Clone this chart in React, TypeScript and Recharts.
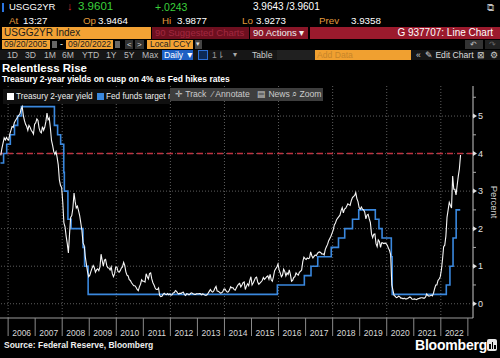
import React from 'react';
import { LineChart, Line, XAxis, YAxis, ReferenceLine } from 'recharts';

// Treasury 2-year yield, one value per half month, from the second half of Sep 2005
const y2005 = [3.95, 4.14, 4.28, 4.42, 4.36, 4.43, 4.38];
const y2006 = [4.36, 4.52, 4.62, 4.72, 4.70, 4.82, 4.88, 4.93, 4.98, 5.02, 5.06, 5.18, 5.25, 5.02, 4.88, 4.78, 4.72, 4.62, 4.75, 4.70, 4.62, 4.58, 4.52, 4.78];
const y2007 = [4.82, 4.92, 4.88, 4.68, 4.58, 4.55, 4.72, 4.62, 4.70, 4.85, 5.08, 4.90, 4.95, 4.68, 4.35, 4.22, 4.05, 3.98, 4.05, 3.90, 3.70, 3.30, 3.15, 3.10];
const y2008 = [2.70, 2.15, 2.05, 1.80, 1.60, 1.35, 1.85, 2.30, 2.35, 2.55, 2.95, 2.72, 2.55, 2.60, 2.48, 2.35, 2.15, 1.95, 1.62, 1.55, 1.25, 1.05, 0.85, 0.72];
const y2009 = [0.76, 0.86, 0.95, 1.02, 0.96, 0.84, 0.90, 0.93, 0.88, 0.98, 1.32, 1.15, 1.00, 1.16, 1.18, 1.02, 0.96, 0.95, 0.90, 0.98, 0.80, 0.72, 0.80, 0.98];
const y2010 = [0.98, 0.86, 0.84, 0.88, 0.95, 0.98, 1.10, 1.02, 0.85, 0.76, 0.74, 0.64, 0.62, 0.56, 0.52, 0.48, 0.48, 0.44, 0.38, 0.35, 0.45, 0.52, 0.64, 0.60];
const y2011 = [0.60, 0.58, 0.80, 0.72, 0.66, 0.80, 0.82, 0.66, 0.56, 0.50, 0.42, 0.38, 0.38, 0.42, 0.22, 0.19, 0.20, 0.25, 0.28, 0.25, 0.24, 0.27, 0.24, 0.26];
const y2012 = [0.23, 0.24, 0.29, 0.30, 0.35, 0.33, 0.28, 0.26, 0.28, 0.27, 0.30, 0.31, 0.24, 0.22, 0.27, 0.26, 0.24, 0.26, 0.29, 0.28, 0.26, 0.25, 0.25, 0.27];
const y2013 = [0.26, 0.27, 0.27, 0.24, 0.26, 0.25, 0.23, 0.22, 0.24, 0.28, 0.33, 0.38, 0.33, 0.31, 0.34, 0.41, 0.46, 0.34, 0.33, 0.31, 0.28, 0.29, 0.32, 0.39];
const y2014 = [0.39, 0.34, 0.31, 0.32, 0.37, 0.45, 0.42, 0.43, 0.38, 0.36, 0.42, 0.48, 0.52, 0.54, 0.45, 0.50, 0.56, 0.58, 0.38, 0.47, 0.53, 0.48, 0.62, 0.72];
const y2015 = [0.50, 0.55, 0.62, 0.69, 0.71, 0.58, 0.52, 0.55, 0.58, 0.62, 0.70, 0.65, 0.68, 0.72, 0.74, 0.65, 0.78, 0.64, 0.60, 0.72, 0.88, 0.93, 0.98, 1.06];
const y2016 = [0.90, 0.82, 0.72, 0.76, 0.92, 0.86, 0.74, 0.82, 0.78, 0.90, 0.78, 0.60, 0.62, 0.70, 0.72, 0.82, 0.78, 0.76, 0.84, 0.86, 0.90, 1.12, 1.24, 1.20];
const y2017 = [1.18, 1.22, 1.20, 1.22, 1.38, 1.28, 1.22, 1.26, 1.30, 1.28, 1.34, 1.37, 1.38, 1.36, 1.32, 1.33, 1.30, 1.45, 1.52, 1.58, 1.68, 1.74, 1.80, 1.88];
const y2018 = [1.96, 2.10, 2.15, 2.24, 2.28, 2.32, 2.36, 2.48, 2.56, 2.42, 2.52, 2.54, 2.60, 2.66, 2.64, 2.62, 2.74, 2.82, 2.86, 2.88, 2.96, 2.80, 2.72, 2.56];
const y2019 = [2.52, 2.58, 2.52, 2.50, 2.44, 2.26, 2.36, 2.38, 2.26, 2.16, 1.86, 1.76, 1.85, 1.86, 1.60, 1.52, 1.70, 1.66, 1.50, 1.62, 1.62, 1.60, 1.62, 1.60];
const y2020 = [1.56, 1.48, 1.42, 1.30, 0.50, 0.36, 0.22, 0.20, 0.16, 0.17, 0.20, 0.19, 0.15, 0.15, 0.13, 0.15, 0.13, 0.13, 0.14, 0.16, 0.18, 0.16, 0.12, 0.12];
const y2021 = [0.13, 0.12, 0.11, 0.13, 0.14, 0.15, 0.16, 0.16, 0.15, 0.15, 0.18, 0.26, 0.22, 0.20, 0.21, 0.23, 0.21, 0.28, 0.40, 0.50, 0.50, 0.62, 0.66, 0.72];
const y2022 = [0.90, 1.18, 1.52, 1.56, 1.80, 2.30, 2.50, 2.70, 2.62, 2.55, 3.40, 3.05, 3.05, 2.90, 3.15, 3.40, 3.60, 3.96];

const treasury2y = [
  ...y2005, ...y2006, ...y2007, ...y2008, ...y2009, ...y2010, ...y2011, ...y2012, ...y2013,
  ...y2014, ...y2015, ...y2016, ...y2017, ...y2018, ...y2019, ...y2020, ...y2021, ...y2022,
];

// Fed funds target rate, upper bound (date it took effect)
const fedDates = [
  '2005-09-20', '2005-11-01', '2005-12-13', '2006-01-31', '2006-03-28', '2006-05-10', '2006-06-29',
  '2007-09-18', '2007-10-31', '2007-12-11', '2008-01-22', '2008-01-30', '2008-03-18', '2008-04-30',
  '2008-10-08', '2008-10-29', '2008-12-16', '2015-12-16', '2016-12-14', '2017-03-15', '2017-06-14',
  '2017-12-13', '2018-03-21', '2018-06-13', '2018-09-26', '2018-12-19', '2019-07-31', '2019-09-18',
  '2019-10-30', '2020-03-03', '2020-03-15', '2022-03-16', '2022-05-04', '2022-06-15', '2022-07-27',
  '2022-09-20',
];
const fedUpper = [
  3.75, 4.0, 4.25, 4.5, 4.75, 5.0, 5.25,
  4.75, 4.5, 4.25, 3.5, 3.0, 2.25, 2.0,
  1.5, 1.0, 0.25, 0.5, 0.75, 1.0, 1.25,
  1.5, 1.75, 2.0, 2.25, 2.5, 2.25, 2.0,
  1.75, 1.25, 0.25, 0.5, 1.0, 1.75, 2.5,
  2.5,
];

const yearTicks = [2006, 2007, 2008, 2009, 2010, 2011, 2012, 2013, 2014, 2015, 2016, 2017, 2018, 2019, 2020, 2021, 2022, 2023];
const gridYears = [2006, 2008, 2010, 2012, 2014, 2016, 2018, 2020, 2022];
const pctTicks = [0, 0.5, 1, 1.5, 2, 2.5, 3, 3.5, 4, 4.5, 5, 5.5];
const gridPct = [0, 1, 2, 3, 4, 5];

const X_DOMAIN: [number, number] = [2005.7, 2023.19];
const Y_DOMAIN: [number, number] = [-0.38, 5.8];
const PLOT_W = 473;
const HALF_YEAR_PX = PLOT_W / (X_DOMAIN[1] - X_DOMAIN[0]) / 2;

const toYear = (d: string) => {
  const [y, m, day] = d.split('-').map(Number);
  const t = Date.UTC(y, m - 1, day) - Date.UTC(y, 0, 1);
  return y + t / (365 * 86400000);
};

const START = 2005 + 8.75 / 12;
const yieldData = treasury2y.map((v, i) => ({ t: START + i / 24, v }));
const fedData = fedDates.map((d, i) => ({ t: toYear(d), v: fedUpper[i] }));

const FONT = '"Liberation Sans Narrow", "Liberation Sans", Arial, sans-serif';

const YearTick = (props: any) => {
  const { x, y, payload } = props;
  const year = payload.value;
  return (
    <g>
      <line x1={x} y1={y} x2={x} y2={y + 18} stroke="#8a8a8a" />
      {year < 2023 && (
        <text x={x + HALF_YEAR_PX} y={y + 18} textAnchor="middle" fill="#d8d8d8" fontSize={8.5} fontFamily={FONT}>
          {year}
        </text>
      )}
    </g>
  );
};

const PctTick = (props: any) => {
  const { x, y, payload } = props;
  const v = payload.value;
  if (!Number.isInteger(v)) return <line x1={x} y1={y} x2={x + 3} y2={y} stroke="#aaa" />;
  return (
    <g>
      <path d={`M${x},${y - 2.5}L${x + 4},${y}L${x},${y + 2.5}Z`} fill="#e0e0e0" />
      <text x={x + 5} y={y + 3} fill="#e0e0e0" fontSize={9} fontFamily={FONT}>
        {v}
      </text>
    </g>
  );
};

const PercentLabel = (props: any) => {
  const vb = props.viewBox || { x: 473, y: 6, width: 27, height: 232 };
  const x = vb.x + 18;
  const y = vb.y + vb.height / 2;
  return (
    <text x={x} y={y} transform={`rotate(90, ${x}, ${y})`} textAnchor="middle" fill="#cfcfcf" fontSize={9.5} fontFamily={FONT}>
      Percent
    </text>
  );
};

const T = ({ x, y, c = '#fff', s = 10, w = 400, ls = 0, children }: any) => (
  <span style={{ position: 'absolute', left: x, top: y - s * 0.6, fontSize: s, lineHeight: 1.2, color: c, fontWeight: w, letterSpacing: ls, whiteSpace: 'nowrap' }}>
    {children}
  </span>
);

const Box = ({ x, y, w, h, bg, children, style }: any) => (
  <div style={{ position: 'absolute', left: x, top: y, width: w, height: h, background: bg, overflow: 'hidden', ...style }}>{children}</div>
);

const ORANGE = '#f3a234';
const LABEL = '#e09a3c';

export default function App() {
  return (
    <div style={{ position: 'absolute', left: 0, top: 0, width: 500, height: 358, background: '#000', overflow: 'hidden', fontFamily: FONT }}>
      {/* quote rows */}
      <Box x={2} y={3} w={2} h={9} bg="#2a74e0" />
      <T x={9} y={7} s={9.5}>USGG2YR</T>
      <T x={67} y={7} s={11} c="#d43434">↓</T>
      <T x={78} y={7} s={11.5} c="#3bd13b">3.9601</T>
      <T x={155} y={7} s={10.5} c="#3bd13b">+.0243</T>
      <T x={253} y={7} s={10}>3.9643 /3.9601</T>
      <T x={487} y={8} s={10} c="#bbb">⧉</T>

      <T x={9} y={21} s={9.8} c={LABEL}>At</T>
      <T x={23} y={21} s={9.8}>13:27</T>
      <T x={83} y={21} s={9.8} c={LABEL}>Op</T>
      <T x={98} y={21} s={9.8}>3.9464</T>
      <T x={162} y={21} s={9.8} c={LABEL}>Hi</T>
      <T x={177} y={21} s={9.8}>3.9877</T>
      <T x={242} y={21} s={9.8} c={LABEL}>Lo</T>
      <T x={256} y={21} s={9.8}>3.9273</T>
      <T x={319} y={21} s={9.8} c={LABEL}>Prev</T>
      <T x={351} y={21} s={9.8}>3.9358</T>

      {/* security bar */}
      <Box x={2} y={27} w={149} h={12} bg={ORANGE} />
      <T x={4} y={33} s={10} c="#1a1a1a">USGG2YR Index</T>
      <Box x={152} y={27} w={97} h={12} bg="#6e0f1f" />
      <T x={155} y={33} s={9.5} c="#a3283f">90 Suggested Charts</T>
      <Box x={250} y={27} w={58} h={12} bg="#8a1628" />
      <T x={253} y={33} s={9.5} c="#eee">90 Actions ▾</T>
      <Box x={310} y={27} w={190} h={12} bg="#9b1a2d" />
      <div style={{ position: 'absolute', right: 7, top: 27, fontSize: 10, lineHeight: '12px', color: '#fff' }}>G 937707: Line Chart</div>

      {/* date row */}
      <Box x={2} y={40} w={48} h={9} bg={ORANGE} />
      <T x={4} y={44.5} s={8.6} c="#222">09/20/2005</T>
      <Box x={52} y={41} w={5} h={7} bg="#666" />
      <T x={60} y={44.5} s={9}>-</T>
      <Box x={66} y={40} w={47} h={9} bg={ORANGE} />
      <T x={68} y={44.5} s={8.6} c="#222">09/20/2022</T>
      <Box x={115} y={41} w={5} h={7} bg="#666" />
      <Box x={125} y={40} w={8} h={9} bg="#333" />
      <T x={127} y={44.5} s={8} c="#ddd">{'<'}</T>
      <Box x={135} y={40} w={9} h={9} bg="#333" />
      <T x={137} y={44.5} s={8} c="#ddd">{'>'}</T>
      <Box x={147} y={40} w={46} h={9} bg={ORANGE} />
      <T x={150} y={44.5} s={8.6} c="#222">Local CCY</T>
      <Box x={195} y={40} w={7} h={9} bg="#444" />
      <T x={196} y={44.5} s={7} c="#ddd">▾</T>
      <Box x={465} y={40} w={18} h={9} bg="#333" />
      <T x={470} y={44.5} s={8} c="#bbb">↶</T>
      <Box x={485} y={40} w={15} h={9} bg="#222" />
      <T x={489} y={44.5} s={8} c="#666">↷</T>

      {/* range row */}
      <Box x={0} y={50} w={500} h={10} bg="#161616" />
      {[['1D', 7], ['3D', 25], ['1M', 44], ['6M', 62], ['YTD', 82], ['1Y', 106], ['5Y', 124], ['Max', 142]].map(([t, x]) => (
        <T key={t as string} x={x} y={55} s={8.6} c="#bdbdbd">{t}</T>
      ))}
      <Box x={162} y={50} w={31} h={10} bg="#1e60c4" />
      <T x={164} y={55} s={8.6} c="#fff">Daily ▼</T>
      <Box x={198} y={50} w={10} h={10} bg="#0d2a55" style={{ boxSizing: 'border-box', border: '1px solid #2b6fd6' }} />
      <T x={212} y={55} s={8.6} c="#999">1⇂</T>
      <T x={233} y={55} s={8} c="#aaa">▾</T>
      <T x={252} y={55} s={8.6} c="#ccc">Table</T>
      <Box x={277} y={50} w={38} h={10} bg="#202020" />
      <Box x={315} y={50} w={96} h={10} bg="#f0a030" />
      <T x={317} y={55} s={8.6} c="#c7852a">Add Data</T>
      <T x={416} y={55} s={8.6} c="#ccc">«</T>
      <T x={425} y={55} s={8.6} c="#ddd">✎ Edit Chart</T>
      <T x={477} y={55} s={8.6} c="#ccc">⊠</T>
      <T x={490} y={55} s={8.6} c="#ccc">⚙</T>

      {/* titles */}
      <T x={2} y={69} s={11.5} w={700}>Relentless Rise</T>
      <T x={2} y={79} s={8.5} w={700}>Treasury 2-year yields on cusp on 4% as Fed hikes rates</T>

      <div style={{ position: 'absolute', left: 0, top: 80 }}>
        <LineChart width={500} height={258} margin={{ top: 6, right: 0, bottom: 0, left: 0 }}>
          <XAxis
            dataKey="t"
            type="number"
            domain={X_DOMAIN}
            ticks={yearTicks}
            interval={0}
            allowDataOverflow
            height={20}
            tickSize={0}
            tickMargin={0}
            tickLine={false}
            axisLine={{ stroke: '#9a9a9a' }}
            tick={<YearTick />}
          />
          <YAxis
            orientation="right"
            type="number"
            domain={Y_DOMAIN}
            ticks={pctTicks}
            interval={0}
            allowDataOverflow
            width={27}
            tickSize={0}
            tickMargin={0}
            tickLine={false}
            axisLine={{ stroke: '#c8c8c8' }}
            tick={<PctTick />}
            label={<PercentLabel />}
          />
          {gridPct.map((v) => (
            <ReferenceLine key={'h' + v} y={v} stroke="#5e5e5e" strokeDasharray="1 2" />
          ))}
          {gridYears.map((v) => (
            <ReferenceLine key={'v' + v} x={v} stroke="#5e5e5e" strokeDasharray="1 2" />
          ))}
          <ReferenceLine y={4} stroke="#bf3340" strokeWidth={1.6} strokeDasharray="6 4" />
          <Line data={fedData} dataKey="v" type="stepAfter" stroke="#3a88de" strokeWidth={1.6} dot={false} activeDot={false} isAnimationActive={false} />
          <Line data={yieldData} dataKey="v" type="linear" stroke="#f7f7f7" strokeWidth={1.1} dot={false} activeDot={false} isAnimationActive={false} />
        </LineChart>
      </div>

      {/* legend; the toolbar covers its right end, so the text is clipped there */}
      <Box x={3} y={89} w={167} h={15} bg="#101010" />
      <Box x={7} y={93} w={7} h={7} bg="#fff" />
      <T x={16} y={97} s={8.2} c="#eee">Treasury 2-year yield</T>
      <Box x={97} y={93} w={7} h={7} bg="#3a88de" />
      <Box x={106} y={89} w={64} h={15} bg="transparent">
        <T x={0} y={8} s={8.2} c="#eee">Fed funds target rate, upper bound</T>
      </Box>
      <Box x={170} y={88} w={153} h={13} bg="#3e3e3e" />
      <T x={175} y={94} s={8.6} c="#ccc">✛ Track</T>
      <T x={212} y={94} s={8.6} c="#ccc">⁄ Annotate</T>
      <T x={257} y={94} s={8.6} c="#ccc">▤ News</T>
      <T x={292} y={94} s={8.6} c="#ccc">⌕ Zoom</T>

      {/* footer */}
      <T x={4} y={345} s={8.5} w={700} c="#eee">Source: Federal Reserve, Bloomberg</T>
      <T x={415} y={345} s={14} w={600} ls={-0.2}>Bloomberg</T>
      <Box x={487} y={339} w={10} h={12} bg="#e6e6e6" style={{ borderRadius: 2 }}>
        <div style={{ position: 'absolute', left: 2, top: 5, width: 1.5, height: 5, background: '#000' }} />
        <div style={{ position: 'absolute', left: 4.5, top: 3, width: 1.5, height: 7, background: '#000' }} />
        <div style={{ position: 'absolute', left: 7, top: 6, width: 1.5, height: 4, background: '#000' }} />
      </Box>
    </div>
  );
}
